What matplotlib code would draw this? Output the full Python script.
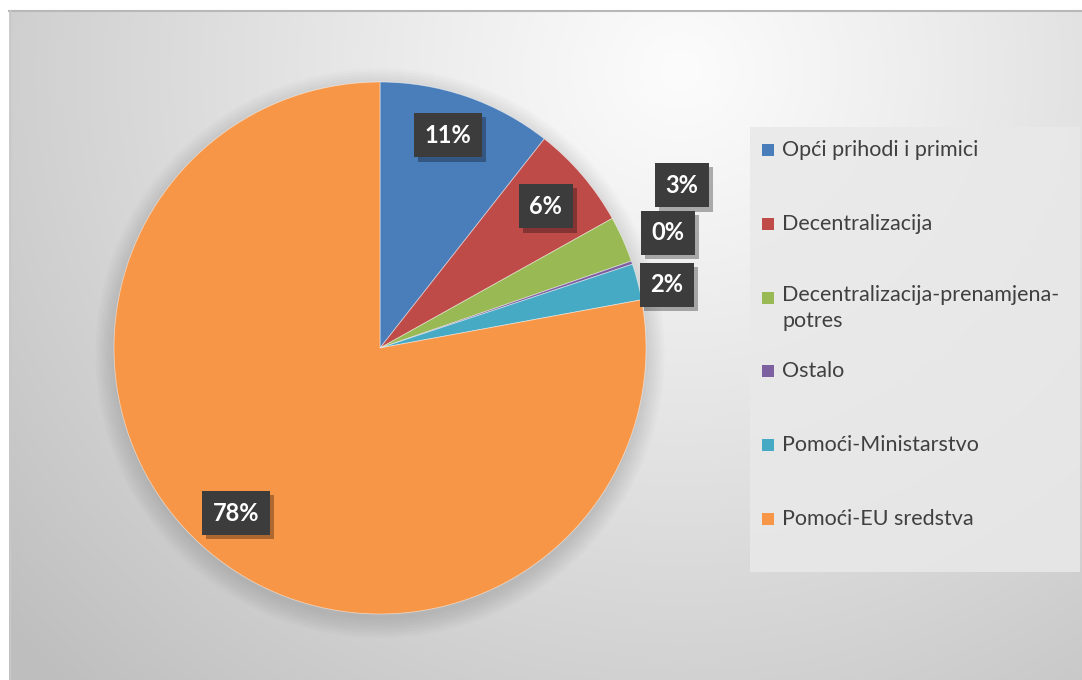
import matplotlib
matplotlib.use("Agg")
import matplotlib.pyplot as plt
import matplotlib.patheffects as pe
from matplotlib.patches import Rectangle, Circle
import numpy as np

# data
categories = ["Opći prihodi i primici", "Decentralizacija",
              "Decentralizacija-prenamjena-\npotres", "Ostalo",
              "Pomoći-Ministarstvo", "Pomoći-EU sredstva"]
shares = [10.6, 6.3, 2.8, 0.2, 2.2, 77.9]
colors = ["#4a7ebb", "#be4b48", "#98b954", "#7d60a0", "#46aac5", "#f79646"]

# label radius / angle tweak per slice (style only)
label_r = [0.84, 0.82, 1.29, 1.165, 1.105, 0.823]
label_dang = [1.3, 0, 4.2, 3.1, -2.0, -1.3]

W, H = 1082, 680
fig = plt.figure(figsize=(W / 100, H / 100), dpi=100)

# background: radial grey gradient inside the chart frame
bg = fig.add_axes([0, 0, 1, 1], zorder=-5)
yy, xx = np.mgrid[0:H, 0:W]
d = np.sqrt((xx - 680) ** 2 + ((yy - 70) / 0.95) ** 2)
g = 252 - 62 * np.clip(d / 900, 0, 1) ** 1.1
g = g / 255.0
g[(yy < 10) | (xx < 9)] = 1.0
img = np.dstack([g, g, g])
bg.imshow(img, extent=(0, W, H, 0), aspect="auto", interpolation="bilinear")
bg.plot([9, W], [10.5, 10.5], color="#b8b8b8", lw=1.5)
bg.plot([9.5, 9.5], [10, H], color="#c8c8c8", lw=1)
bg.set_xlim(0, W)
bg.set_ylim(H, 0)
bg.axis("off")

# pie axes, center at (380, 348) px, radius 266 px
cx, cy, R = 380, 348, 266
lim = 1.4
side = 2 * lim * R
ax = fig.add_axes([(cx - side / 2) / W, (H - cy - side / 2) / H, side / W, side / H])

# soft shadow under the pie
for i in range(8):
    ax.add_patch(Circle((0.0, -0.02), 1.0 + 0.01 * i, color="black",
                        alpha=0.015, lw=0, zorder=0))

wedges, _ = ax.pie(shares, colors=colors, startangle=90, counterclock=False,
                   radius=1.0, wedgeprops=dict(linewidth=0.6, edgecolor="#ffffff80"))
for w in wedges:
    w.set_zorder(2)
ax.set_xlim(-lim, lim)
ax.set_ylim(-lim, lim)
ax.axis("off")

cum = 0
total = sum(shares)
for i, s in enumerate(shares):
    mid = 90 - (cum + s / 2) / total * 360 + label_dang[i]
    cum += s
    x = label_r[i] * np.cos(np.radians(mid))
    y = label_r[i] * np.sin(np.radians(mid))
    t = ax.text(x, y, f"{s / total * 100:.0f}%", ha="center", va="center",
                fontsize=17, fontweight="bold", color="white", family="Lato",
                zorder=5,
                bbox=dict(boxstyle="square,pad=0.45", fc="#3c3c3c", ec="none"))
    t.get_bbox_patch().set_path_effects([
        pe.SimplePatchShadow(offset=(3, -3), shadow_rgbFace="black", alpha=0.3),
        pe.Normal()])

# legend panel drawn by hand
fig.patches.append(Rectangle((750 / W, (H - 572) / H), 330 / W, 445 / H,
                             transform=fig.transFigure, fc="#e9e9e9",
                             ec="none", alpha=0.85, zorder=1))
ys = [150, 224, 298, 371, 445, 519]
for lab, col, y in zip(categories, colors, ys):
    fig.patches.append(Rectangle((762 / W, (H - y - 6) / H), 12 / W, 12 / H,
                                 transform=fig.transFigure, fc=col, ec="none",
                                 zorder=2))
    if "\n" in lab:
        fig.text(782 / W, (H - y + 13) / H, lab, ha="left", va="top",
                 fontsize=15.5, family="Lato", color="#404040", linespacing=1.4,
                 zorder=3)
    else:
        fig.text(782 / W, (H - y) / H, lab, ha="left", va="center",
                 fontsize=15.5, family="Lato", color="#404040", zorder=3)

fig.savefig("out.png", dpi=100)
